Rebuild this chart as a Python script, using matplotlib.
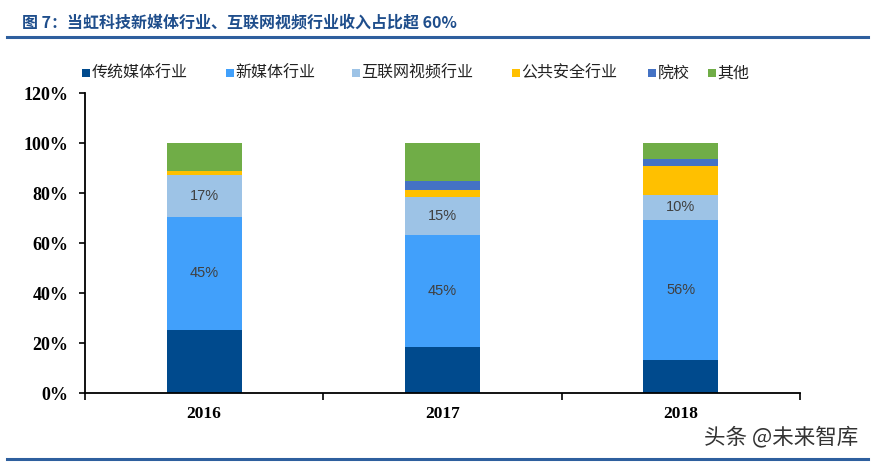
import matplotlib
matplotlib.use("Agg")
import matplotlib.pyplot as plt
from matplotlib.lines import Line2D
from matplotlib.patches import Rectangle
import numpy as np

years = ["2016", "2017", "2018"]
series_names = ["传统媒体行业", "新媒体行业", "互联网视频行业", "公共安全行业", "院校", "其他"]
traditional = [25.5, 18.5, 13.5]
new_media = [45, 45, 56]
internet_video = [17, 15, 10]
public_security = [1.5, 3, 11.5]
colleges = [0, 3.4, 2.6]
others = [11, 15.1, 6.4]
labels_new_media = ["45%", "45%", "56%"]
labels_video = ["17%", "15%", "10%"]
yticks = [0, 20, 40, 60, 80, 100, 120]

colors = ["#004a8d", "#41a0fb", "#9dc3e6", "#ffc000", "#4472c4", "#70ad47"]
series = [traditional, new_media, internet_video, public_security, colleges, others]

plt.rcParams['font.family'] = ['Noto Sans CJK SC', 'DejaVu Sans']

W, H = 875, 463
fig = plt.figure(figsize=(8.75, 4.63), dpi=100)
ax = fig.add_axes([85/W, 1-393.3/H, 715/W, 300/H])

x = np.arange(len(years))
width = 0.314
bottom = np.zeros(len(years))
for vals, col in zip(series, colors):
    ax.bar(x, vals, width, bottom=bottom, color=col, linewidth=0)
    bottom += np.array(vals)

b1 = np.array(traditional)
for i in range(len(years)):
    ax.text(x[i], b1[i] + new_media[i]/2, labels_new_media[i], ha='center', va='center',
            fontsize=10.5, color='#404040', family=['Liberation Sans'])
    ax.text(x[i], b1[i] + new_media[i] + internet_video[i]/2, labels_video[i], ha='center',
            va='center', fontsize=10.5, color='#404040', family=['Liberation Sans'])

ax.set_xlim(-0.5, 2.5)
ax.set_ylim(0, 120)
ax.set_yticks(yticks)
ax.set_yticklabels([f"{v}%" for v in yticks], family=['Liberation Serif'], fontweight='bold', fontsize=13)
ax.set_xticks(x)
ax.set_xticklabels(years, family=['Liberation Serif'], fontweight='bold', fontsize=12.5)
ax.set_xticks([-0.5, 0.5, 1.5, 2.5], minor=True)
ax.tick_params(axis='x', which='major', length=0, pad=9)
ax.tick_params(axis='x', which='minor', length=5, width=1.2, direction='out')
ax.tick_params(axis='y', length=4, width=1.2, direction='out', pad=8)
for s in ['top', 'right']:
    ax.spines[s].set_visible(False)
ax.spines['left'].set_linewidth(1.3)
ax.spines['bottom'].set_linewidth(1.3)

# manual legend (positions in pixels)
leg_x = [82, 226, 352, 512, 648, 708]
leg_y = 73
sq = 7.5
for lx, name, c in zip(leg_x, series_names, colors):
    fig.add_artist(Rectangle((lx/W, (H-leg_y-sq/2)/H), sq/W, sq/H, facecolor=c,
                             edgecolor='none', transform=fig.transFigure))
    fig.text((lx+sq+2)/W, 1-leg_y/H, name, fontsize=11.5, color='#222222',
             ha='left', va='center')

# title and decorative lines
fig.text(22/W, 1-22/H, "图 7：当虹科技新媒体行业、互联网视频行业收入占比超 60%",
         fontsize=11.5, fontweight='bold', color='#1f4e8c', va='center', ha='left',
         family=['Noto Sans CJK SC', 'DejaVu Sans'])
fig.add_artist(Line2D([7/W, 868/W], [1-37/H, 1-37/H], color='#2e5f9e', linewidth=2.2))
fig.add_artist(Line2D([7/W, 868/W], [1-459/H, 1-459/H], color='#2e5f9e', linewidth=2.2))

fig.text(858/W, 1-437/H, "头条 @未来智库", fontsize=15.5, color='#333333', ha='right', va='center')

fig.savefig("out.png", dpi=100)
